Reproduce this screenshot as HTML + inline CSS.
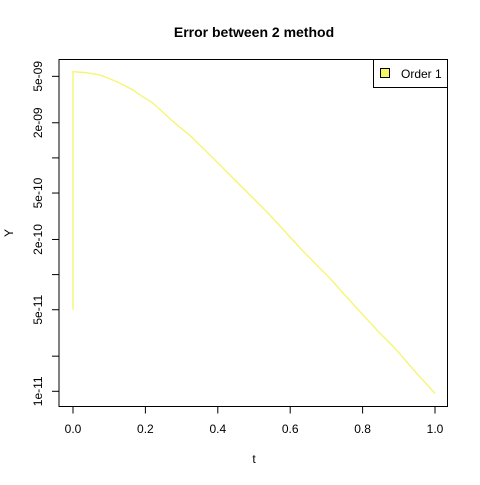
<!DOCTYPE html>
<html><head><meta charset="utf-8"><style>
body{margin:0;background:#fff}
svg text{font-family:"Liberation Sans",Arial,sans-serif;fill:#000}
</style></head><body>
<svg id="c" width="480" height="480" viewBox="0 0 480 480">
<rect width="480" height="480" fill="#fff"/>
<text x="254" y="37" text-anchor="middle" font-size="14" font-weight="bold">Error between 2 method</text>
<text x="254" y="463" text-anchor="middle" font-size="12">t</text>
<text transform="translate(13,233) rotate(-90)" text-anchor="middle" font-size="12">Y</text>
<rect x="59" y="59.5" width="388.5" height="347" fill="none" stroke="#000" stroke-width="1"/>
<g id="xt"></g><g id="yt"></g><g id="series"></g>
<g>
<rect x="373.5" y="59.5" width="74" height="28" fill="#fff" stroke="#000"/>
<rect x="380.5" y="68.5" width="9" height="9" fill="#f5f56a" stroke="#000"/>
<text x="401" y="78" font-size="12">Order 1</text>
</g>
</svg>
<script>
const tVals=[0,0,0.037,0.075,0.121,0.166,0.185,0.221,0.277,0.323,0.369,0.461,0.535,0.586,0.632,0.673,0.710,0.747,0.784,0.848,0.885,0.949,1];
const yVals=[5e-11,5.48e-9,5.37e-9,5.13e-9,4.5e-9,3.82e-9,3.46e-9,2.94e-9,2.04e-9,1.56e-9,1.13e-9,5.86e-10,3.46e-10,2.33e-10,1.63e-10,1.21e-10,9.3e-11,6.9e-11,5.15e-11,3.14e-11,2.42e-11,1.43e-11,9.6e-12];
const xTicks=[0,0.2,0.4,0.6,0.8,1];
const xTickLabels=["0.0","0.2","0.4","0.6","0.8","1.0"];
const yTicks=[1e-11,2e-11,5e-11,1e-10,2e-10,5e-10,1e-9,2e-9,5e-9];
const yTickLabels=["1e-11","","5e-11","","2e-10","5e-10","","2e-09","5e-09"];
const NS="http://www.w3.org/2000/svg";
const X=v=>73+v*362;
const Y=v=>391.3-(Math.log10(v)+11)*116.7;
function mk(tag,attrs,parent){const e=document.createElementNS(NS,tag);for(const k in attrs)e.setAttribute(k,attrs[k]);parent.appendChild(e);return e;}
const xt=document.getElementById('xt'),yt=document.getElementById('yt'),s=document.getElementById('series');
xTicks.forEach((v,i)=>{
 const l=mk('line',{x1:X(v),x2:X(v),y1:406.5,y2:413.5,stroke:'#000'},xt);
 
 
 const t=mk('text',{x:X(v),y:433,'text-anchor':'middle','font-size':12},xt);
 t.textContent=xTickLabels[i];
 
 
});
yTicks.forEach((v,i)=>{
 const y=Y(v);
 const l=mk('line',{x1:52,x2:59,y1:y,y2:y,stroke:'#000'},yt);
 
 
 if(yTickLabels[i]){
  const t=mk('text',{transform:`translate(42,${y}) rotate(-90)`,'text-anchor':'middle','font-size':12},yt);
  t.textContent=yTickLabels[i];
  
  
 }
});
const pts=tVals.map((t,i)=>X(t).toFixed(1)+','+Y(yVals[i]).toFixed(1)).join(' ');
const p=mk('polyline',{points:pts,fill:'none',stroke:'#f5f56a','stroke-width':1.3,'stroke-linejoin':'round'},s);


</script>
</body></html>
